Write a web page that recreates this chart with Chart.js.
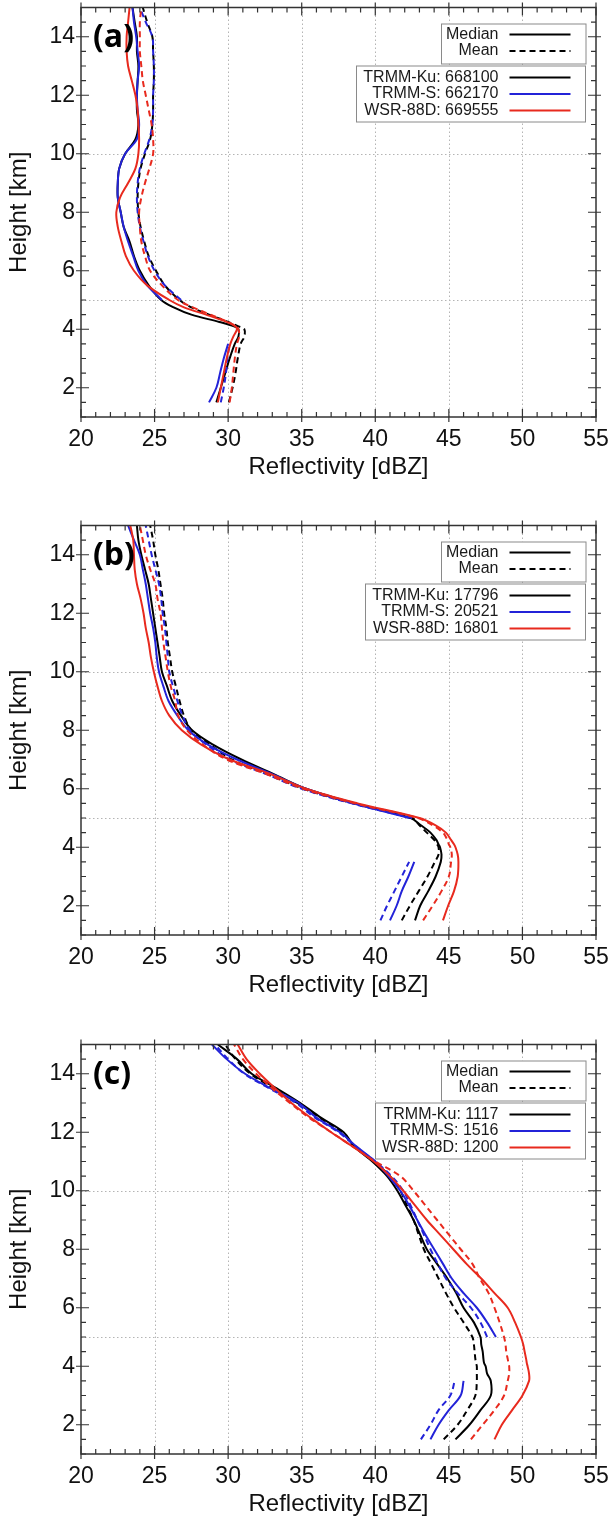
<!DOCTYPE html>
<html>
<head>
<meta charset="utf-8">
<script src="https://cdn.jsdelivr.net/npm/chart.js@4.4.0/dist/chart.umd.min.js"></script>
<style>
  html, body { margin: 0; padding: 0; background: #fff; }
  #wrap { position: relative; width: 610px; height: 1516px; }
  canvas { position: absolute; left: 0; }
</style>
</head>
<body>
<div id="wrap">
  <canvas id="panelA" width="610" height="505" style="top:0px"></canvas>
  <canvas id="panelB" width="610" height="505" style="top:518px"></canvas>
  <canvas id="panelC" width="610" height="505" style="top:1037px"></canvas>
</div>
<script>
// heights (km) shared by all profiles
const heights = [1.5, 2, 2.5, 3, 3.5, 3.75, 4, 4.1, 4.25, 4.5, 4.75, 5, 5.5, 6, 6.5, 7, 7.5, 8, 8.5, 9, 9.5, 10, 10.5, 11, 11.5, 12, 12.5, 13, 13.5, 14, 14.5, 15];

const xTicks = [20, 25, 30, 35, 40, 45, 50, 55];
const yTicks = [2, 4, 6, 8, 10, 12, 14];
const xGrid = [25, 30, 35, 40, 45, 50];
const yGrid = [5, 10];

const sensorNames = ["TRMM-Ku", "TRMM-S", "WSR-88D"];
const statNames = ["Median", "Mean"];
const colors = ["#000000", "#2323d8", "#e82a1e"];

// panel (a)
const aCounts = [668100, 662170, 669555];
const aKuMedian = [29.2, 29.5, 29.8, 30.1, 30.45, 30.7, 30.7, 30.4, 29.4, 27.5, 26.3, 25.45, 24.6, 24.0, 23.6, 23.3, 22.9, 22.7, 22.5, 22.5, 22.6, 23.0, 23.7, 23.9, 23.8, 23.8, 23.85, 23.9, 23.8, 23.8, 23.65, 23.5];
const aSMedian = [28.7, 29.2, 29.45, 29.7, 30.0, null, null, null, null, null, null, 25.5, 24.5, 23.9, 23.55, 23.2, 22.9, 22.7, 22.5, 22.5, 22.6, 23.0, 23.8, 23.95, 23.85, 23.8, 23.85, 23.95, 23.85, 23.75, 23.6, 23.5];
const aWsrMedian = [29.3, 29.5, 29.7, 29.9, 30.15, 30.35, 30.6, 30.5, 29.9, 28.5, 27.0, 26.0, 24.5, 23.6, 23.05, 22.75, 22.5, 22.4, 22.65, 23.2, 23.7, 23.9, 23.95, 23.9, 23.85, 23.7, 23.45, 23.2, 23.1, 23.1, 23.2, 23.3];
const aKuMean = [30.05, 30.3, 30.5, 30.65, 30.85, 31.1, 31.1, 30.7, 30.0, 28.7, 27.5, 26.7, 25.7, 25.1, 24.6, 24.3, 24.05, 23.9, 23.85, 23.9, 24.05, 24.35, 24.7, 24.85, 24.9, 24.9, 24.95, 24.95, 24.9, 24.85, 24.5, 24.2];
const aSMean = [29.5, 29.7, 29.85, 29.95, 30.1, null, null, null, null, null, null, 26.8, 25.7, 25.0, 24.55, 24.25, 24.0, 23.85, 23.8, 23.85, 24.0, 24.3, 24.65, 24.85, 24.9, 24.9, 24.95, 24.95, 24.9, 24.85, 24.4, 24.0];
const aWsrMean = [30.1, 30.25, 30.35, 30.45, 30.6, 30.75, 30.7, 30.55, 30.0, 28.8, 27.6, 26.6, 25.5, 24.7, 24.35, 24.1, 24.0, 23.95, 24.1, 24.35, 24.65, 24.9, 24.9, 24.8, 24.6, 24.4, 24.2, 24.1, 24.0, 24.0, 24.0, 24.1];

// panel (b)
const bCounts = [17796, 20521, 16801];
const bKuMedian = [42.7, 43.05, 43.6, 44.1, 44.45, 44.5, 44.4, 44.3, 44.15, 43.75, 43.1, 42.4, 38.6, 35.3, 33.1, 30.9, 29.0, 27.55, 26.8, 26.2, 25.85, 25.5, 25.35, 25.2, 25.05, 24.9, 24.75, 24.6, 24.35, 24.1, 23.9, 23.8];
const bSMedian = [41.0, 41.45, 41.8, 42.25, 42.65, null, null, null, null, null, null, 42.3, 38.5, 35.3, 33.0, 30.6, 28.65, 27.3, 26.55, 25.95, 25.6, 25.3, 25.15, 25.05, 24.9, 24.7, 24.55, 24.4, 24.2, 24.0, 23.6, 23.2];
const bWsrMedian = [44.6, 44.95, 45.35, 45.6, 45.65, 45.6, 45.45, 45.35, 45.15, 44.8, 44.1, 43.0, 38.8, 35.3, 32.9, 30.1, 28.2, 26.85, 26.0, 25.5, 25.2, 24.95, 24.75, 24.6, 24.4, 24.25, 24.05, 23.8, 23.65, 23.6, 23.55, 23.35];
const bKuMean = [41.8, 42.35, 42.95, 43.55, 44.05, 44.3, 44.3, 44.2, 44.0, 43.5, 43.0, 42.5, 38.5, 35.1, 32.7, 30.25, 28.8, 27.5, 27.0, 26.7, 26.45, 26.2, 26.05, 25.9, 25.8, 25.65, 25.55, 25.4, 25.25, 25.05, 24.9, 24.7];
const bSMean = [40.35, 40.8, 41.3, 41.8, 42.3, null, null, null, null, null, null, 42.5, 38.4, 35.0, 32.6, 30.1, 28.55, 27.4, 26.9, 26.55, 26.25, 26.0, 25.9, 25.8, 25.7, 25.55, 25.45, 25.3, 25.05, 24.8, 24.6, 24.4];
const bWsrMean = [43.25, 43.9, 44.5, 45.0, 45.15, 45.2, 45.1, 45.0, 44.9, 44.6, 43.9, 42.9, 38.6, 35.1, 32.6, 29.9, 28.3, 27.2, 26.6, 26.4, 26.1, 25.9, 25.75, 25.6, 25.5, 25.4, 25.2, 25.05, 24.7, 24.4, 24.2, 24.0];

// panel (c)
const cCounts = [1117, 1516, 1200];
const cKuMedian = [45.45, 46.4, 47.15, 47.85, 47.85, 47.6, 47.5, 47.4, 47.35, 47.3, 47.2, 47.15, 46.7, 46.0, 45.5, 44.9, 44.2, 43.5, 43.05, 42.6, 42.05, 41.5, 40.8, 39.8, 38.6, 37.85, 36.3, 34.9, 33.3, 31.6, 30.6, 29.3];
const cSMedian = [43.75, 44.3, 45.0, 45.8, 46.0, null, null, null, null, null, null, 48.2, 47.6, 46.9, 46.0, 45.2, 44.6, 44.0, 43.4, 42.85, 42.3, 41.7, 40.9, 40.0, 38.75, 37.6, 36.0, 34.8, 32.9, 31.15, 29.9, 28.9];
const cWsrMedian = [48.1, 48.6, 49.3, 50.0, 50.45, 50.45, 50.35, 50.3, 50.25, 50.15, 50.05, 49.9, 49.5, 49.0, 48.1, 47.2, 46.2, 45.3, 44.4, 43.5, 42.7, 41.9, 41.0, 39.9, 38.5, 37.0, 35.6, 34.3, 33.2, 32.15, 31.25, 30.65];
const cKuMean = [44.65, 45.6, 46.25, 46.8, 46.9, 46.9, 46.9, 46.85, 46.8, 46.75, 46.7, 46.6, 46.0, 45.35, 44.8, 44.3, 43.8, 43.3, 42.95, 42.6, 42.15, 41.7, 41.0, 39.9, 38.6, 37.7, 36.2, 34.7, 33.1, 31.5, 30.5, 29.8];
const cSMean = [43.1, 43.75, 44.3, 45.1, 45.4, null, null, null, null, null, null, 47.6, 47.15, 46.5, 45.6, 44.8, 44.25, 43.75, 43.3, 42.85, 42.4, 41.9, 41.1, 40.0, 38.7, 37.5, 35.9, 34.6, 32.8, 31.1, 30.0, 29.1];
const cWsrMean = [46.5, 47.3, 48.1, 48.75, 49.0, 49.1, 49.1, 49.05, 49.0, 48.9, 48.85, 48.75, 48.45, 48.1, 47.7, 47.1, 46.6, 45.8, 45.0, 44.2, 43.4, 42.6, 41.7, 40.0, 38.5, 37.0, 35.5, 34.2, 33.0, 31.9, 31.0, 30.4];

Chart.defaults.font.family = "'Liberation Sans', Arial, sans-serif";
Chart.defaults.color = "#111";

const meanDash = [6, 4];

function profile(vals) {
    return heights.map((h, i) => ({ x: vals[i], y: h }));
}

// frame with inward ticks, dotted grid, the two legend boxes and the panel tag
const framePlugin = {
    id: "frame",
    beforeDatasetsDraw(chart) {
        const { ctx, chartArea: a, scales: { x, y } } = chart;
        ctx.save();
        ctx.strokeStyle = "#b4b4b4";
        ctx.lineWidth = 1;
        ctx.setLineDash([1.5, 2.5]);
        xGrid.forEach(v => {
            const px = Math.round(x.getPixelForValue(v)) + 0.5;
            ctx.beginPath(); ctx.moveTo(px, a.top); ctx.lineTo(px, a.bottom); ctx.stroke();
        });
        yGrid.forEach(v => {
            const py = Math.round(y.getPixelForValue(v)) + 0.5;
            ctx.beginPath(); ctx.moveTo(a.left, py); ctx.lineTo(a.right, py); ctx.stroke();
        });
        ctx.restore();
    },
    afterDatasetsDraw(chart, args, opts) {
        const { ctx, chartArea: a, scales: { x, y } } = chart;
        ctx.save();
        ctx.strokeStyle = "#333";
        ctx.lineWidth = 1.5;
        ctx.strokeRect(a.left, a.top, a.right - a.left, a.bottom - a.top);

        ctx.lineWidth = 1.2;
        for (let v = x.min; v <= x.max + 1e-6; v += 1) {
            const px = x.getPixelForValue(v);
            const major = xTicks.includes(v);
            const inn = major ? 8 : 5, out = major ? 5 : 0;
            ctx.beginPath();
            ctx.moveTo(px, a.bottom + out); ctx.lineTo(px, a.bottom - inn);
            ctx.moveTo(px, a.top - out); ctx.lineTo(px, a.top + inn);
            ctx.stroke();
        }
        for (let v = y.min; v <= y.max + 1e-6; v += 0.5) {
            const py = y.getPixelForValue(v);
            const major = yTicks.includes(v);
            const inn = major ? 8 : 5, out = major ? 5 : 0;
            ctx.beginPath();
            ctx.moveTo(a.left - out, py); ctx.lineTo(a.left + inn, py);
            ctx.moveTo(a.right + out, py); ctx.lineTo(a.right - inn, py);
            ctx.stroke();
        }

        // panel tag
        ctx.fillStyle = "#000";
        ctx.font = "bold 32px 'Open Sans', 'Noto Sans', sans-serif";
        ctx.textAlign = "left";
        ctx.textBaseline = "middle";
        ctx.fillText(opts.tag, a.left + 12, y.getPixelForValue(14) + 1);

        // legend
        ctx.font = "16px 'Liberation Sans', Arial, sans-serif";
        ctx.textAlign = "right";
        const tr = a.left + 417.5, l0 = a.left + 428.5, l1 = a.left + 489.5, br = a.left + 504.5;
        const rowsTop = [27, 43.5];
        const rowsBot = [70, 86.5, 103];
        const labels = sensorNames.map((n, i) => n + ": " + opts.counts[i]);
        const wBot = Math.max(...labels.map(t => ctx.measureText(t).width));

        ctx.strokeStyle = "#8a8a8a";
        ctx.lineWidth = 1;
        ctx.setLineDash([]);
        ctx.fillStyle = "#fff";
        ctx.fillRect(a.left + 360, a.top + 16, br - a.left - 360, 40);
        ctx.strokeRect(a.left + 360.5, a.top + 16.5, br - a.left - 360, 40);
        const b2l = Math.round(tr - wBot - 7) + 0.5;
        ctx.fillRect(b2l, a.top + 58.5, br - b2l, 56);
        ctx.strokeRect(b2l, a.top + 58.5, br - b2l, 56);

        ctx.fillStyle = "#1a1a1a";
        statNames.forEach((t, i) => {
            const yy = a.top + rowsTop[i];
            ctx.fillText(t, tr, yy);
            ctx.strokeStyle = "#000";
            ctx.lineWidth = 2;
            ctx.setLineDash(i === 1 ? meanDash : []);
            ctx.beginPath(); ctx.moveTo(l0, yy); ctx.lineTo(l1, yy); ctx.stroke();
        });
        labels.forEach((t, i) => {
            const yy = a.top + rowsBot[i];
            ctx.fillText(t, tr, yy);
            ctx.strokeStyle = colors[i];
            ctx.lineWidth = 2;
            ctx.setLineDash([]);
            ctx.beginPath(); ctx.moveTo(l0, yy); ctx.lineTo(l1, yy); ctx.stroke();
        });
        ctx.restore();
    }
};

function makePanel(id, tag, counts, med, mean) {
    // med / mean ordered as [Ku, S, WSR]; red drawn on top, black underneath
    const datasets = [];
    [2, 1, 0].forEach(i => {
        datasets.push({ data: profile(med[i]), borderColor: colors[i], borderDash: [] });
        datasets.push({ data: profile(mean[i]), borderColor: colors[i], borderDash: meanDash });
    });

    return new Chart(document.getElementById(id), {
        type: "line",
        data: { datasets },
        options: {
            responsive: false,
            animation: false,
            spanGaps: false,
            layout: { padding: { top: 7.5, right: 14, left: 0, bottom: 0 } },
            elements: {
                point: { radius: 0 },
                line: { borderWidth: 2, tension: 0.35, fill: false }
            },
            plugins: {
                legend: { display: false },
                tooltip: { enabled: false },
                frame: { tag, counts }
            },
            scales: {
                x: {
                    type: "linear",
                    min: 20,
                    max: 55,
                    afterBuildTicks: s => { s.ticks = xTicks.map(v => ({ value: v })); },
                    afterFit: s => { s.height = 88; s.paddingLeft = 0; s.paddingRight = 0; },
                    grid: { display: false, drawTicks: false },
                    border: { display: false },
                    ticks: { padding: 9, font: { size: 23 }, color: "#111", maxRotation: 0 },
                    title: { display: true, text: "Reflectivity [dBZ]", font: { size: 24 }, color: "#111", padding: { top: 0, bottom: 23.6 } }
                },
                y: {
                    type: "linear",
                    min: 1,
                    max: 15,
                    afterBuildTicks: s => { s.ticks = yTicks.map(v => ({ value: v })); },
                    afterFit: s => { s.width = 81; s.paddingTop = 0; s.paddingBottom = 0; },
                    grid: { display: false, drawTicks: false },
                    border: { display: false },
                    ticks: { padding: 6, font: { size: 23 }, color: "#111" },
                    title: { display: true, text: "Height [km]", font: { size: 24 }, color: "#111", padding: { top: 4.6, bottom: 0 } }
                }
            }
        },
        plugins: [framePlugin]
    });
}

makePanel("panelA", "(a)", aCounts, [aKuMedian, aSMedian, aWsrMedian], [aKuMean, aSMean, aWsrMean]);
makePanel("panelB", "(b)", bCounts, [bKuMedian, bSMedian, bWsrMedian], [bKuMean, bSMean, bWsrMean]);
makePanel("panelC", "(c)", cCounts, [cKuMedian, cSMedian, cWsrMedian], [cKuMean, cSMean, cWsrMean]);
</script>
</body>
</html>
